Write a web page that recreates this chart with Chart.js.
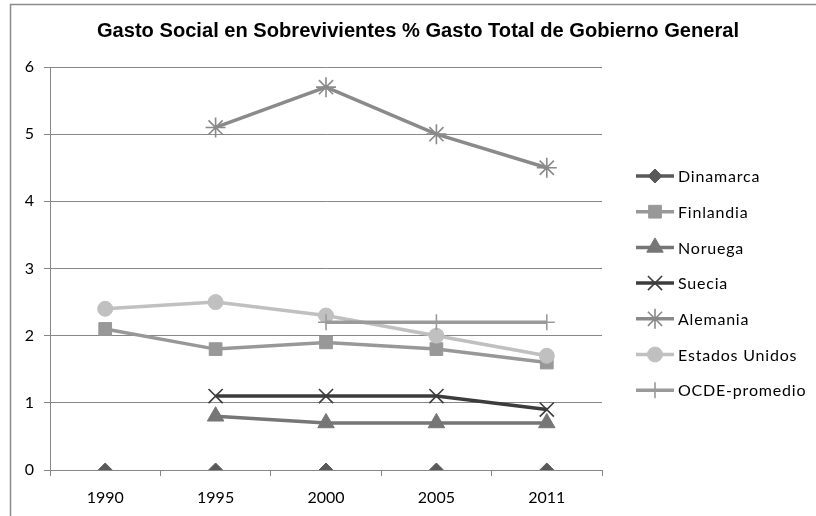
<!DOCTYPE html>
<html>
<head>
<meta charset="utf-8">
<script src="https://cdn.jsdelivr.net/npm/chart.js@4/dist/chart.umd.min.js"></script>
<style>
  html, body { margin: 0; padding: 0; background: #fff; }
  #c { display: block; }
</style>
</head>
<body>
<canvas id="c" width="816" height="516"></canvas>
<script>
// Survivors' social spending as % of total general government spending
const title = 'Gasto Social en Sobrevivientes % Gasto Total de Gobierno General';
const years = ['1990', '1995', '2000', '2005', '2011'];
const yTicks = [0, 1, 2, 3, 4, 5, 6];

const seriesNames = ['Dinamarca', 'Finlandia', 'Noruega', 'Suecia', 'Alemania', 'Estados Unidos', 'OCDE-promedio'];
const dinamarca     = [0, 0, 0, 0, 0];
const finlandia     = [2.1, 1.8, 1.9, 1.8, 1.6];
const noruega       = [null, 0.8, 0.7, 0.7, 0.7];
const suecia        = [null, 1.1, 1.1, 1.1, 0.9];
const alemania      = [null, 5.1, 5.7, 5.0, 4.5];
const estadosUnidos = [2.4, 2.5, 2.3, 2.0, 1.7];
const ocdePromedio  = [null, null, 2.2, 2.2, 2.2];

const seriesValues = [dinamarca, finlandia, noruega, suecia, alemania, estadosUnidos, ocdePromedio];

// line colour, marker style, marker radius, filled marker?, draw connecting line?
const looks = [
  { color: '#595959', style: 'rectRot',  r: 7,   fill: true,  line: false },
  { color: '#989898', style: 'rect',     r: 9,   fill: true,  line: true },
  { color: '#767676', style: 'triangle', r: 9.5, fill: true,  line: true },
  { color: '#3c3c3c', style: 'crossRot', r: 10,  fill: false, line: true },
  { color: '#8a8a8a', style: 'star',     r: 10,  fill: false, line: true },
  { color: '#c0c0c0', style: 'circle',   r: 7.5, fill: true,  line: true },
  { color: '#9a9a9a', style: 'cross',    r: 8,   fill: false, line: true }
];

const gridColor = '#878787';
const tickFont = { family: 'Lato', size: 16 };

const datasets = seriesNames.map((name, i) => ({
  label: name,
  data: seriesValues[i],
  borderColor: looks[i].color,
  backgroundColor: looks[i].color,
  borderWidth: 3.5,
  showLine: looks[i].line,
  spanGaps: false,
  pointStyle: looks[i].style,
  pointRadius: looks[i].r,
  pointHoverRadius: looks[i].r,
  pointBackgroundColor: looks[i].color,
  pointBorderColor: looks[i].color,
  pointBorderWidth: looks[i].fill ? 1 : 1.6,
  order: seriesNames.length - i
}));

function markerAt(ctx, look, x, y) {
  const h = Chart.helpers;
  ctx.save();
  ctx.fillStyle = look.color;
  ctx.strokeStyle = look.color;
  ctx.lineWidth = look.fill ? 1 : 1.6;
  if (h && h.drawPoint) {
    h.drawPoint(ctx, { pointStyle: look.style, radius: look.r, borderWidth: ctx.lineWidth, rotation: 0 }, x, y);
  }
  ctx.restore();
}

const frameAndText = {
  id: 'frameAndText',
  afterDraw(chart) {
    const ctx = chart.ctx;
    const area = chart.chartArea;

    // outer frame (top and left edges)
    ctx.save();
    ctx.strokeStyle = '#8c8c8c';
    ctx.lineWidth = 1.5;
    ctx.beginPath();
    ctx.moveTo(10.5, 516);
    ctx.lineTo(10.5, 4.5);
    ctx.lineTo(816, 4.5);
    ctx.stroke();
    ctx.restore();

    // title, sized to span its line
    ctx.save();
    ctx.fillStyle = '#000';
    ctx.textBaseline = 'middle';
    ctx.textAlign = 'center';
    const wanted = 643;
    ctx.font = 'bold 14px "Liberation Sans", Arial, sans-serif';
    const size = 14 * wanted / ctx.measureText(title).width;
    ctx.font = 'bold ' + size.toFixed(2) + 'px "Liberation Sans", Arial, sans-serif';
    ctx.fillText(title, 418, 31);
    ctx.restore();

    // legend: line sample with marker, then label
    const lx0 = area.right + 34, lx1 = area.right + 72, tx = area.right + 76;
    seriesNames.forEach((name, i) => {
      const y = 176 + i * 35.7;
      const look = looks[i];
      ctx.save();
      ctx.strokeStyle = look.color;
      ctx.lineWidth = 3.5;
      ctx.beginPath();
      ctx.moveTo(lx0, y);
      ctx.lineTo(lx1, y);
      ctx.stroke();
      ctx.restore();
      markerAt(ctx, look, (lx0 + lx1) / 2, y);
      ctx.save();
      ctx.font = '16px Lato, sans-serif';
      ctx.letterSpacing = '0.8px';
      ctx.fillStyle = '#000';
      ctx.textBaseline = 'middle';
      ctx.textAlign = 'left';
      ctx.fillText(name, tx, y + 1);
      ctx.restore();
    });
  }
};

new Chart(document.getElementById('c'), {
  type: 'line',
  data: { labels: years, datasets },
  options: {
    responsive: false,
    animation: false,
    events: [],
    layout: { padding: { left: 10, top: 67, right: 214, bottom: 0 } },
    plugins: {
      legend: { display: false },
      title: { display: false },
      tooltip: { enabled: false }
    },
    scales: {
      x: {
        type: 'category',
        offset: true,
        afterFit(s) { s.height = 46; },
        grid: {
          offset: true,
          drawOnChartArea: false,
          drawTicks: true,
          tickLength: 6,
          color: gridColor,
          lineWidth: 1
        },
        border: { display: true, color: gridColor, width: 1 },
        ticks: { color: '#000', font: tickFont, padding: 12, maxRotation: 0 }
      },
      y: {
        min: 0,
        max: 6,
        afterFit(s) { s.width = 40; },
        afterBuildTicks(s) { s.ticks = yTicks.map(v => ({ value: v })); },
        grid: {
          color: gridColor,
          lineWidth: 1,
          drawTicks: true,
          tickLength: 6
        },
        border: { display: true, color: gridColor, width: 1 },
        ticks: { color: '#000', font: tickFont, padding: 10 }
      }
    }
  },
  plugins: [frameAndText]
});
</script>
</body>
</html>
